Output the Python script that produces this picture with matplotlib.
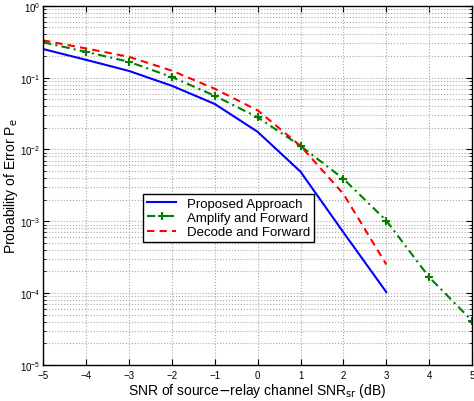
import numpy as np
import matplotlib
matplotlib.use('Agg')
import matplotlib.pyplot as plt
import matplotlib.ticker as ticker

snr = [-5, -4, -3, -2, -1, 0, 1, 2, 3, 4, 5]
snr_short = [-5, -4, -3, -2, -1, 0, 1, 2, 3]

pe_proposed = [0.25, 0.177, 0.124, 0.077, 0.043, 0.0176, 0.0049, 7.0e-4, 1.03e-4]
pe_af = [0.31, 0.229, 0.166, 0.102, 0.056, 0.028, 0.0112, 3.9e-3, 1.02e-3, 1.66e-4, 4.1e-5]
pe_df = [0.33, 0.255, 0.195, 0.125, 0.070, 0.035, 0.0112, 2.4e-3, 2.5e-4]

plt.rcParams['font.family'] = ['Liberation Sans', 'DejaVu Sans']

fig = plt.figure(figsize=(4.74, 4.02), dpi=100)
ax = fig.add_axes([0.091, 0.09, 0.905, 0.893])

ax.semilogy(snr_short, pe_proposed, color='#0000ff', lw=1.5, label='Proposed Approach')
ax.semilogy(snr, pe_af, color='#008000', lw=1.5, ls=(0, (4, 2, 1, 2)),
            marker='+', ms=6, mew=1.5, label='Amplify and Forward')
ax.semilogy(snr_short, pe_df, color='#ff0000', lw=1.5, ls=(0, (3.5, 2.5)),
            label='Decode and Forward')

ax.set_xlim(-5, 5)
ax.set_ylim(1e-5, 1)
ax.set_xticks(np.arange(-5, 6, 1))
ax.xaxis.set_major_formatter(ticker.FuncFormatter(lambda x, pos: '{0:g}'.format(x).replace('-', '\u2212')))
ax.yaxis.set_minor_locator(ticker.LogLocator(base=10, subs=np.arange(2, 10)))
ax.yaxis.set_minor_formatter(ticker.NullFormatter())

ax.grid(True, which='major', ls=':', color='#a8a8a8', lw=0.8)
ax.grid(True, which='minor', axis='y', ls=':', color='#a8a8a8', lw=0.8)
ax.tick_params(which='both', direction='in', top=True, right=True, labelsize=7)
ax.tick_params(which='major', length=4)
ax.tick_params(which='minor', length=2)
ax.tick_params(axis='y', pad=2)
for s in ax.spines.values():
    s.set_linewidth(1.0)

ax.set_xlabel(r'SNR of source$-$relay channel SNR$_{\mathrm{sr}}$ (dB)', fontsize=10, labelpad=1)
ax.set_ylabel(r'Probability of Error P$_{\mathrm{e}}$', fontsize=10, va='center')
ax.yaxis.set_label_coords(-0.076, 0.5)

leg = ax.legend(loc='upper left', bbox_to_anchor=(0.233, 0.477), fontsize=9.5,
                fancybox=False, framealpha=1, edgecolor='black',
                borderpad=0.3, labelspacing=0.15, handlelength=2.2, borderaxespad=0)
leg.get_frame().set_linewidth(1.0)

plt.savefig('out.png', dpi=100)
